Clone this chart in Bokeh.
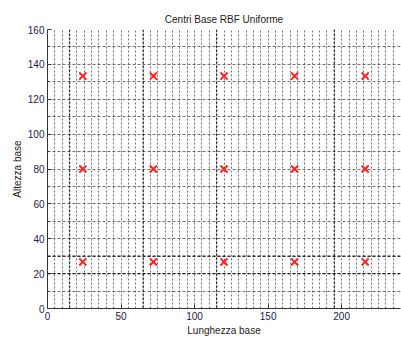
from bokeh.plotting import figure
from bokeh.models import SingleIntervalTicker, FixedTicker, Span
from bokeh.embed import file_html
from bokeh.resources import INLINE

# Data: uniform RBF centres
centers_x = [24, 72, 120, 168, 216]
centers_y = [26.7, 80, 133.3]
x_ticks = [0, 50, 100, 150, 200]
y_ticks = [0, 20, 40, 60, 80, 100, 120, 140, 160]

px = [x for y in centers_y for x in centers_x]
py = [y for y in centers_y for x in centers_x]

FONT = "Liberation Sans"

p = figure(width=401, height=338, x_range=(0, 240), y_range=(0, 160),
           output_backend="svg", toolbar_location=None,
           min_border_left=47, min_border_right=1, min_border_top=29,
           min_border_bottom=28, title="Centri Base RBF Uniforme")
p.outline_line_color = None
p.background_fill_color = "white"
p.border_fill_color = "white"

p.title.align = "center"
p.title.text_font = FONT
p.title.text_font_size = "10px"
p.title.text_font_style = "normal"
p.title.text_color = "#222222"

# grids
p.xgrid.ticker = SingleIntervalTicker(interval=5, num_minor_ticks=0)
p.ygrid.ticker = SingleIntervalTicker(interval=10, num_minor_ticks=0)
p.xgrid.grid_line_dash = "2 2"
p.ygrid.grid_line_dash = "3 2"
for g in (p.xgrid, p.ygrid):
    g.grid_line_color = "#444444"
    g.grid_line_alpha = 0.75
    g.grid_line_width = 1

# darker moiré-like lines seen in the picture
for xv in [15, 65, 115, 195]:
    p.add_layout(Span(location=xv, dimension="height", line_color="#111111",
                      line_dash="2 2", line_width=1.3, line_alpha=0.9))
for yv in [20, 30]:
    p.add_layout(Span(location=yv, dimension="width", line_color="#111111",
                      line_dash="3 2", line_width=1.3, line_alpha=0.9))

p.scatter(px, py, marker="x", size=10, line_color="#ff2020", line_width=2)

p.xaxis.ticker = FixedTicker(ticks=x_ticks)
p.yaxis.ticker = FixedTicker(ticks=y_ticks,
                             minor_ticks=[v + 10 for v in y_ticks[:-1]])
for ax in (p.xaxis[0], p.yaxis[0]):
    ax.axis_line_color = "#333333"
    ax.axis_line_width = 1
    ax.major_tick_in = 4
    ax.major_tick_out = 0
    ax.minor_tick_in = 2
    ax.minor_tick_out = 0
    ax.major_tick_line_color = "#333333"
    ax.major_label_text_font = FONT
    ax.major_label_text_font_size = "10px"
    ax.major_label_text_color = "#222244"
    ax.axis_label_text_font = FONT
    ax.axis_label_text_font_size = "10px"
    ax.axis_label_text_font_style = "normal"
    ax.axis_label_text_color = "#222222"
    ax.major_label_standoff = 3
    ax.axis_label_standoff = 2
p.xaxis.minor_tick_line_color = None
p.yaxis.minor_tick_line_color = "#333333"
p.xaxis.axis_label = "Lunghezza base"
p.yaxis.axis_label = "Altezza base"

open("out.html", "w").write(file_html(p, INLINE))
